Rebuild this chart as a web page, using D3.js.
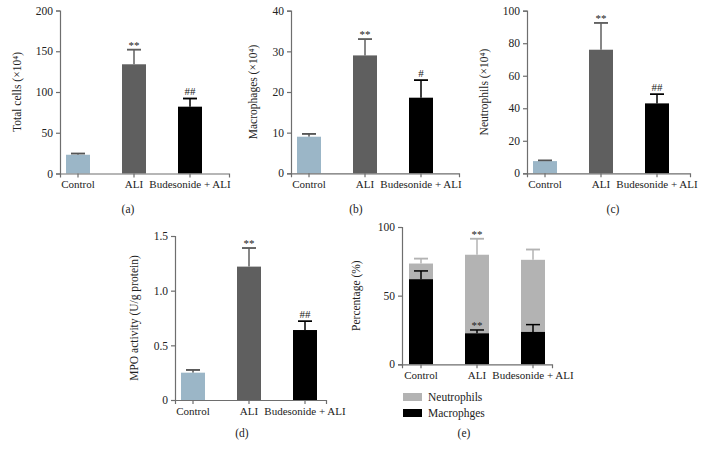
<!DOCTYPE html>
<html>
<head>
<meta charset="utf-8">
<script src="https://cdn.jsdelivr.net/npm/d3@7"></script>
<style>
  html, body { margin: 0; padding: 0; background: #fff; }
  svg { display: block; }
  text { font-family: "Liberation Serif", "DejaVu Serif", serif; fill: #222; }
</style>
</head>
<body>
<svg id="chart" width="704" height="456"></svg>
<script>
// ---------------- DATA ----------------
const categories = ["Control", "ALI", "Budesonide + ALI"];

const totalCells      = [23, 134, 82];
const totalCellsErr   = [1.5, 18, 10];
const totalCellsMarks = ["", "**", "##"];
const totalTicks      = [0, 50, 100, 150, 200];

const macrophages      = [9, 29, 18.6];
const macrophagesErr   = [0.7, 4, 4.3];
const macrophagesMarks = ["", "**", "#"];
const macrophageTicks  = [0, 10, 20, 30, 40];

const neutrophils      = [7.5, 76, 43];
const neutrophilsErr   = [0.4, 16.5, 5.6];
const neutrophilsMarks = ["", "**", "##"];
const neutrophilTicks  = [0, 20, 40, 60, 80, 100];

const mpo      = [0.25, 1.22, 0.64];
const mpoErr   = [0.025, 0.17, 0.08];
const mpoMarks = ["", "**", "##"];
const mpoTicks = [0, 0.5, 1.0, 1.5];

const pctMacro        = [62, 22.6, 23.6];
const pctMacroErr     = [6, 2.4, 5.3];
const pctMacroMarks   = ["", "**", ""];
const pctNeutro       = [11.4, 57.2, 52.5];
const pctNeutroErr    = [3.6, 11.7, 7.5];
const pctNeutroMarks  = ["", "**", ""];
const pctTicks        = [0, 50, 100];
const legendLabels    = ["Neutrophils", "Macrophges"];

// ---------------- STYLE ----------------
const barColors = ["#9bb6c7", "#5f5f5f", "#000000"];
const errColors = ["#555555", "#5f5f5f", "#000000"];
const neutroColor = "#b3b3b3";
const axisColor = "#6e6e6e";
const markColor = "#666666";

const svg = d3.select("#chart");

function band(x0, xEnd, offset) {
  const step = 56, bw = 24, n = categories.length;
  const pi = 1 - bw / step;
  const L = xEnd - x0;
  const po = (L / step - (n - pi)) / 2;
  const align = offset / (L - step * (n - pi));
  return d3.scaleBand().domain(categories).range([x0, xEnd])
    .paddingInner(pi).paddingOuter(po).align(align);
}

function drawAxes(g, x, y, ticks, fmt, yTop, yBottom, label, labelX, caption, captionX, captionY) {
  const ya = g.append("g").attr("transform", `translate(${x.range()[0]},0)`)
    .call(d3.axisLeft(y).tickValues(ticks).tickFormat(fmt).tickSizeOuter(0).tickSize(4));
  const xa = g.append("g").attr("transform", `translate(0,${y(0)})`)
    .call(d3.axisBottom(x).tickSizeOuter(0).tickSize(4));
  [ya, xa].forEach(a => {
    a.selectAll("path, line").attr("stroke", axisColor).attr("stroke-width", 1.2);
    a.selectAll("text").style("font-family", '"Liberation Serif", serif').attr("fill", "#222");
  });
  ya.selectAll("text").style("font-size", "11.5px");
  xa.selectAll("text").style("font-size", "11px");
  g.append("text")
    .attr("transform", `translate(${labelX},${(y.range()[0] + y.range()[1]) / 2}) rotate(-90)`)
    .attr("text-anchor", "middle")
    .style("font-size", "11.5px")
    .text(label);
  g.append("text").attr("x", captionX).attr("y", captionY)
    .attr("text-anchor", "middle").style("font-size", "11.5px").text(caption);
}

function errBar(g, cx, yBase, yTop, color) {
  g.append("line").attr("x1", cx).attr("x2", cx).attr("y1", yBase).attr("y2", yTop)
    .attr("stroke", color).attr("stroke-width", 1.5);
  g.append("line").attr("x1", cx - 7).attr("x2", cx + 7).attr("y1", yTop).attr("y2", yTop)
    .attr("stroke", color).attr("stroke-width", 1.5);
}

function mark(g, cx, yTop, txt) {
  if (!txt) return;
  const isStar = txt.indexOf("*") >= 0;
  g.append("text").attr("x", cx).attr("y", isStar ? yTop - 1 : yTop - 3.5)
    .attr("text-anchor", "middle").style("font-size", "11px").attr("fill", markColor).text(txt);
}

function simplePanel(cfg) {
  const g = svg.append("g");
  const x = band(cfg.x0, cfg.xEnd, 6);
  const y = d3.scaleLinear().domain(cfg.domain).range([cfg.yBottom, cfg.yTop]);
  cfg.values.forEach((v, i) => {
    const c = categories[i];
    const cx = x(c) + x.bandwidth() / 2;
    const top = y(v + cfg.err[i]);
    errBar(g, cx, y(v), top, errColors[i]);
    g.append("rect").attr("x", x(c)).attr("width", x.bandwidth())
      .attr("y", y(v)).attr("height", y(0) - y(v)).attr("fill", barColors[i]);
    g.append("line").attr("x1", cx - 7).attr("x2", cx + 7).attr("y1", top).attr("y2", top)
      .attr("stroke", errColors[i]).attr("stroke-width", 1.5);
    mark(g, cx, top, cfg.marks[i]);
  });
  drawAxes(g, x, y, cfg.ticks, cfg.fmt, cfg.yTop, cfg.yBottom, cfg.label, cfg.labelX,
    cfg.caption, cfg.captionX, cfg.captionY);
}

simplePanel({ x0: 60, xEnd: 229, yTop: 10.5, yBottom: 173.5, domain: [0, 200],
  values: totalCells, err: totalCellsErr, marks: totalCellsMarks, ticks: totalTicks,
  fmt: d3.format("d"), label: "Total cells (×10⁴)", labelX: 21,
  caption: "(a)", captionX: 128, captionY: 213 });

simplePanel({ x0: 291, xEnd: 459, yTop: 10.7, yBottom: 173.3, domain: [0, 40],
  values: macrophages, err: macrophagesErr, marks: macrophagesMarks, ticks: macrophageTicks,
  fmt: d3.format("d"), label: "Macrophages (×10⁴)", labelX: 257,
  caption: "(b)", captionX: 356, captionY: 213 });

simplePanel({ x0: 527, xEnd: 690, yTop: 10.7, yBottom: 173.3, domain: [0, 100],
  values: neutrophils, err: neutrophilsErr, marks: neutrophilsMarks, ticks: neutrophilTicks,
  fmt: d3.format("d"), label: "Neutrophils (×10⁴)", labelX: 488,
  caption: "(c)", captionX: 613, captionY: 213 });

simplePanel({ x0: 175, xEnd: 326, yTop: 236, yBottom: 400, domain: [0, 1.5],
  values: mpo, err: mpoErr, marks: mpoMarks, ticks: mpoTicks,
  fmt: d => d === 0 ? "0" : d3.format(".1f")(d), label: "MPO activity (U/g protein)", labelX: 138,
  caption: "(d)", captionX: 242, captionY: 437 });

// ---------------- Panel (e) stacked ----------------
(function () {
  const g = svg.append("g");
  const x = band(402, 552, 7);
  const y = d3.scaleLinear().domain([0, 100]).range([364.3, 227]);
  categories.forEach((c, i) => {
    const cx = x(c) + x.bandwidth() / 2;
    const m = pctMacro[i], n = pctNeutro[i];
    const nTop = y(m + n + pctNeutroErr[i]);
    errBar(g, cx, y(m + n), nTop, neutroColor);
    g.append("rect").attr("x", x(c)).attr("width", x.bandwidth())
      .attr("y", y(m + n)).attr("height", y(m) - y(m + n)).attr("fill", neutroColor);
    g.append("rect").attr("x", x(c)).attr("width", x.bandwidth())
      .attr("y", y(m)).attr("height", y(0) - y(m)).attr("fill", "#000");
    const mTop = y(m + pctMacroErr[i]);
    errBar(g, cx, y(m), mTop, "#000");
    g.append("line").attr("x1", cx - 7).attr("x2", cx + 7).attr("y1", nTop).attr("y2", nTop)
      .attr("stroke", neutroColor).attr("stroke-width", 1.5);
    mark(g, cx, nTop, pctNeutroMarks[i]);
    mark(g, cx, mTop, pctMacroMarks[i]);
  });
  drawAxes(g, x, y, pctTicks, d3.format("d"), 227, 364.3, "Percentage (%)", 360,
    "(e)", 464, 437);
  const legendColors = [neutroColor, "#000"];
  legendLabels.forEach((l, i) => {
    g.append("rect").attr("x", 403).attr("y", 393 + i * 16).attr("width", 19).attr("height", 8)
      .attr("fill", legendColors[i]);
    g.append("text").attr("x", 428).attr("y", 401 + i * 16).style("font-size", "11.5px").text(l);
  });
})();
</script>
</body>
</html>
